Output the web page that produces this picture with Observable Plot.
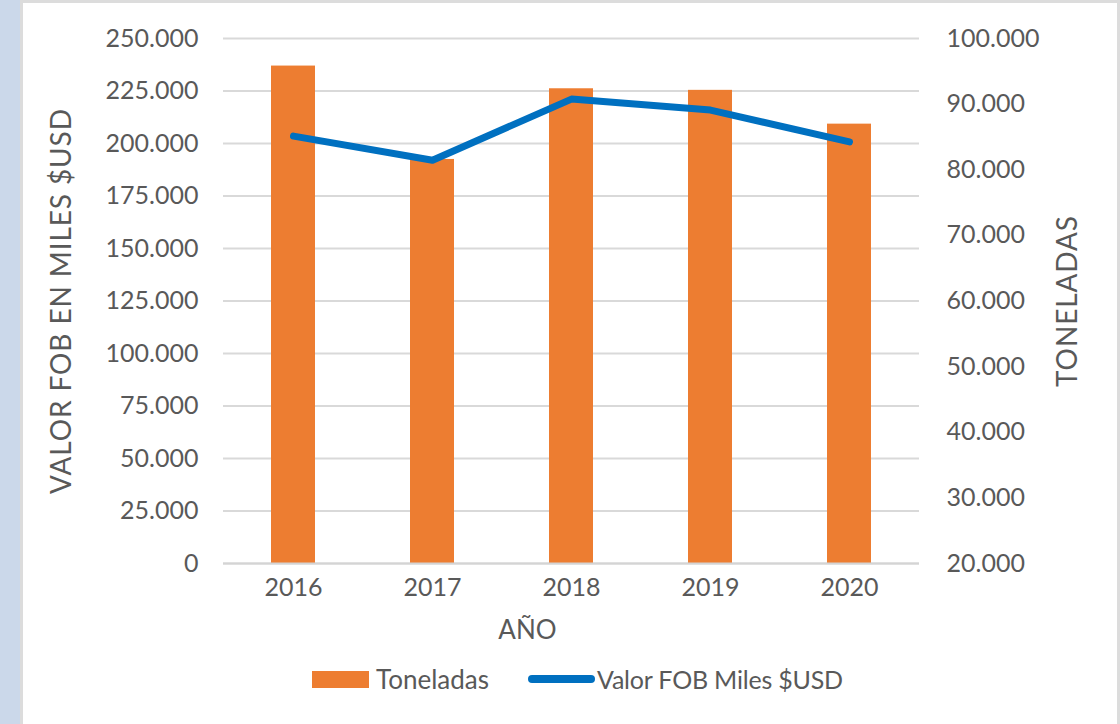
<!DOCTYPE html>
<html><head><meta charset="utf-8">
<script src="https://cdn.jsdelivr.net/npm/d3@7"></script>
<script src="https://cdn.jsdelivr.net/npm/@observablehq/plot@0.6"></script>
<style>
html,body{margin:0;padding:0;}
body{background:#cbd8ea;width:1120px;height:724px;overflow:hidden;position:relative;font-family:Lato,"Open Sans",sans-serif;color:#595959;}
#frame{position:absolute;left:20px;top:0;width:1100px;height:740px;background:#fff;border-left:3px solid #dcdcdc;border-top:3px solid #dcdcdc;border-right:3px solid #dcdcdc;box-sizing:border-box;}
#chart{position:absolute;left:0;top:0;}
.sw{position:absolute;}
.lt{position:absolute;font-size:26px;line-height:26px;white-space:nowrap;}
</style></head>
<body>
<div id="frame"></div>
<div id="chart"></div>
<div class="sw" style="left:312px;top:671px;width:57px;height:17px;background:#ED7D31"></div>
<div class="lt" id="l1" style="left:376px;top:666px">Toneladas</div>
<div class="sw" style="left:528px;top:675px;width:67px;height:8px;border-radius:4px;background:#0070C0"></div>
<div class="lt" id="l2" style="left:597px;top:666px;font-size:25px;letter-spacing:-0.2px">Valor FOB Miles $USD</div>
<script>
const years = ["2016", "2017", "2018", "2019", "2020"];
const toneladas = [95800, 81570, 92340, 92100, 86950];
const valorFob = [203500, 192050, 221150, 215900, 200780];
const leftTicks = [0, 25000, 50000, 75000, 100000, 125000, 150000, 175000, 200000, 225000, 250000];
const rightTicks = [20000, 30000, 40000, 50000, 60000, 70000, 80000, 90000, 100000];
const leftMax = 250000;
const rightMin = 20000, rightMax = 100000;

const toLeft = v => (v - rightMin) / (rightMax - rightMin) * leftMax;
const toRight = v => Math.round(rightMin + v / leftMax * (rightMax - rightMin));
const fmt = v => d3.format(",")(v).replace(/,/g, ".");

const data = years.map((y, i) => ({year: y, ton: toneladas[i], fob: valorFob[i]}));

const chart = Plot.plot({
  width: 1120,
  height: 660,
  marginLeft: 223,
  marginRight: 201,
  marginTop: 38,
  marginBottom: 97,
  style: {fontFamily: "Lato, 'Open Sans', sans-serif", fontSize: "25px", color: "#595959", background: "transparent", overflow: "visible"},
  x: {type: "band", domain: years, paddingInner: 0.684, paddingOuter: 0.342},
  y: {domain: [0, leftMax]},
  marks: [
    Plot.gridY(leftTicks, {stroke: "#d9d9d9", strokeOpacity: 1, strokeWidth: 2}),
    Plot.barY(data, {x: "year", y1: 0, y2: d => toLeft(d.ton), fill: "#ED7D31"}),
    Plot.ruleY([0], {stroke: "#d4d4d4", strokeWidth: 2}),
    Plot.line(data, {x: "year", y: "fob", stroke: "#0070C0", strokeWidth: 7, strokeLinecap: "round", strokeLinejoin: "round"}),
    Plot.axisY({anchor: "left", ticks: leftTicks, tickSize: 0, tickPadding: 25, tickFormat: fmt, label: null}),
    Plot.axisY({anchor: "right", ticks: rightTicks.map(toLeft), tickSize: 0, tickPadding: 27, tickFormat: d => fmt(toRight(d)), label: null}),
    Plot.axisX({tickSize: 0, tickPadding: 15, label: null}),
    Plot.text(["VALOR FOB EN MILES $USD"], {text: d => d, frameAnchor: "left", textAnchor: "middle", lineAnchor: "middle", dx: -161, rotate: -90, fontSize: 28, fill: "#595959", className: "ttl"}),
    Plot.text(["TONELADAS"], {text: d => d, frameAnchor: "right", textAnchor: "middle", lineAnchor: "middle", dx: 149, rotate: -90, fontSize: 28, fill: "#595959", className: "ttl"}),
    Plot.text(["AÑO"], {text: d => d, frameAnchor: "bottom", dx: -44, dy: 75, fontSize: 26, fill: "#595959"})
  ]
});
d3.select(chart).selectAll(".ttl text").style("letter-spacing", "0.9px");
document.getElementById("chart").appendChild(chart);
</script>
</body></html>
